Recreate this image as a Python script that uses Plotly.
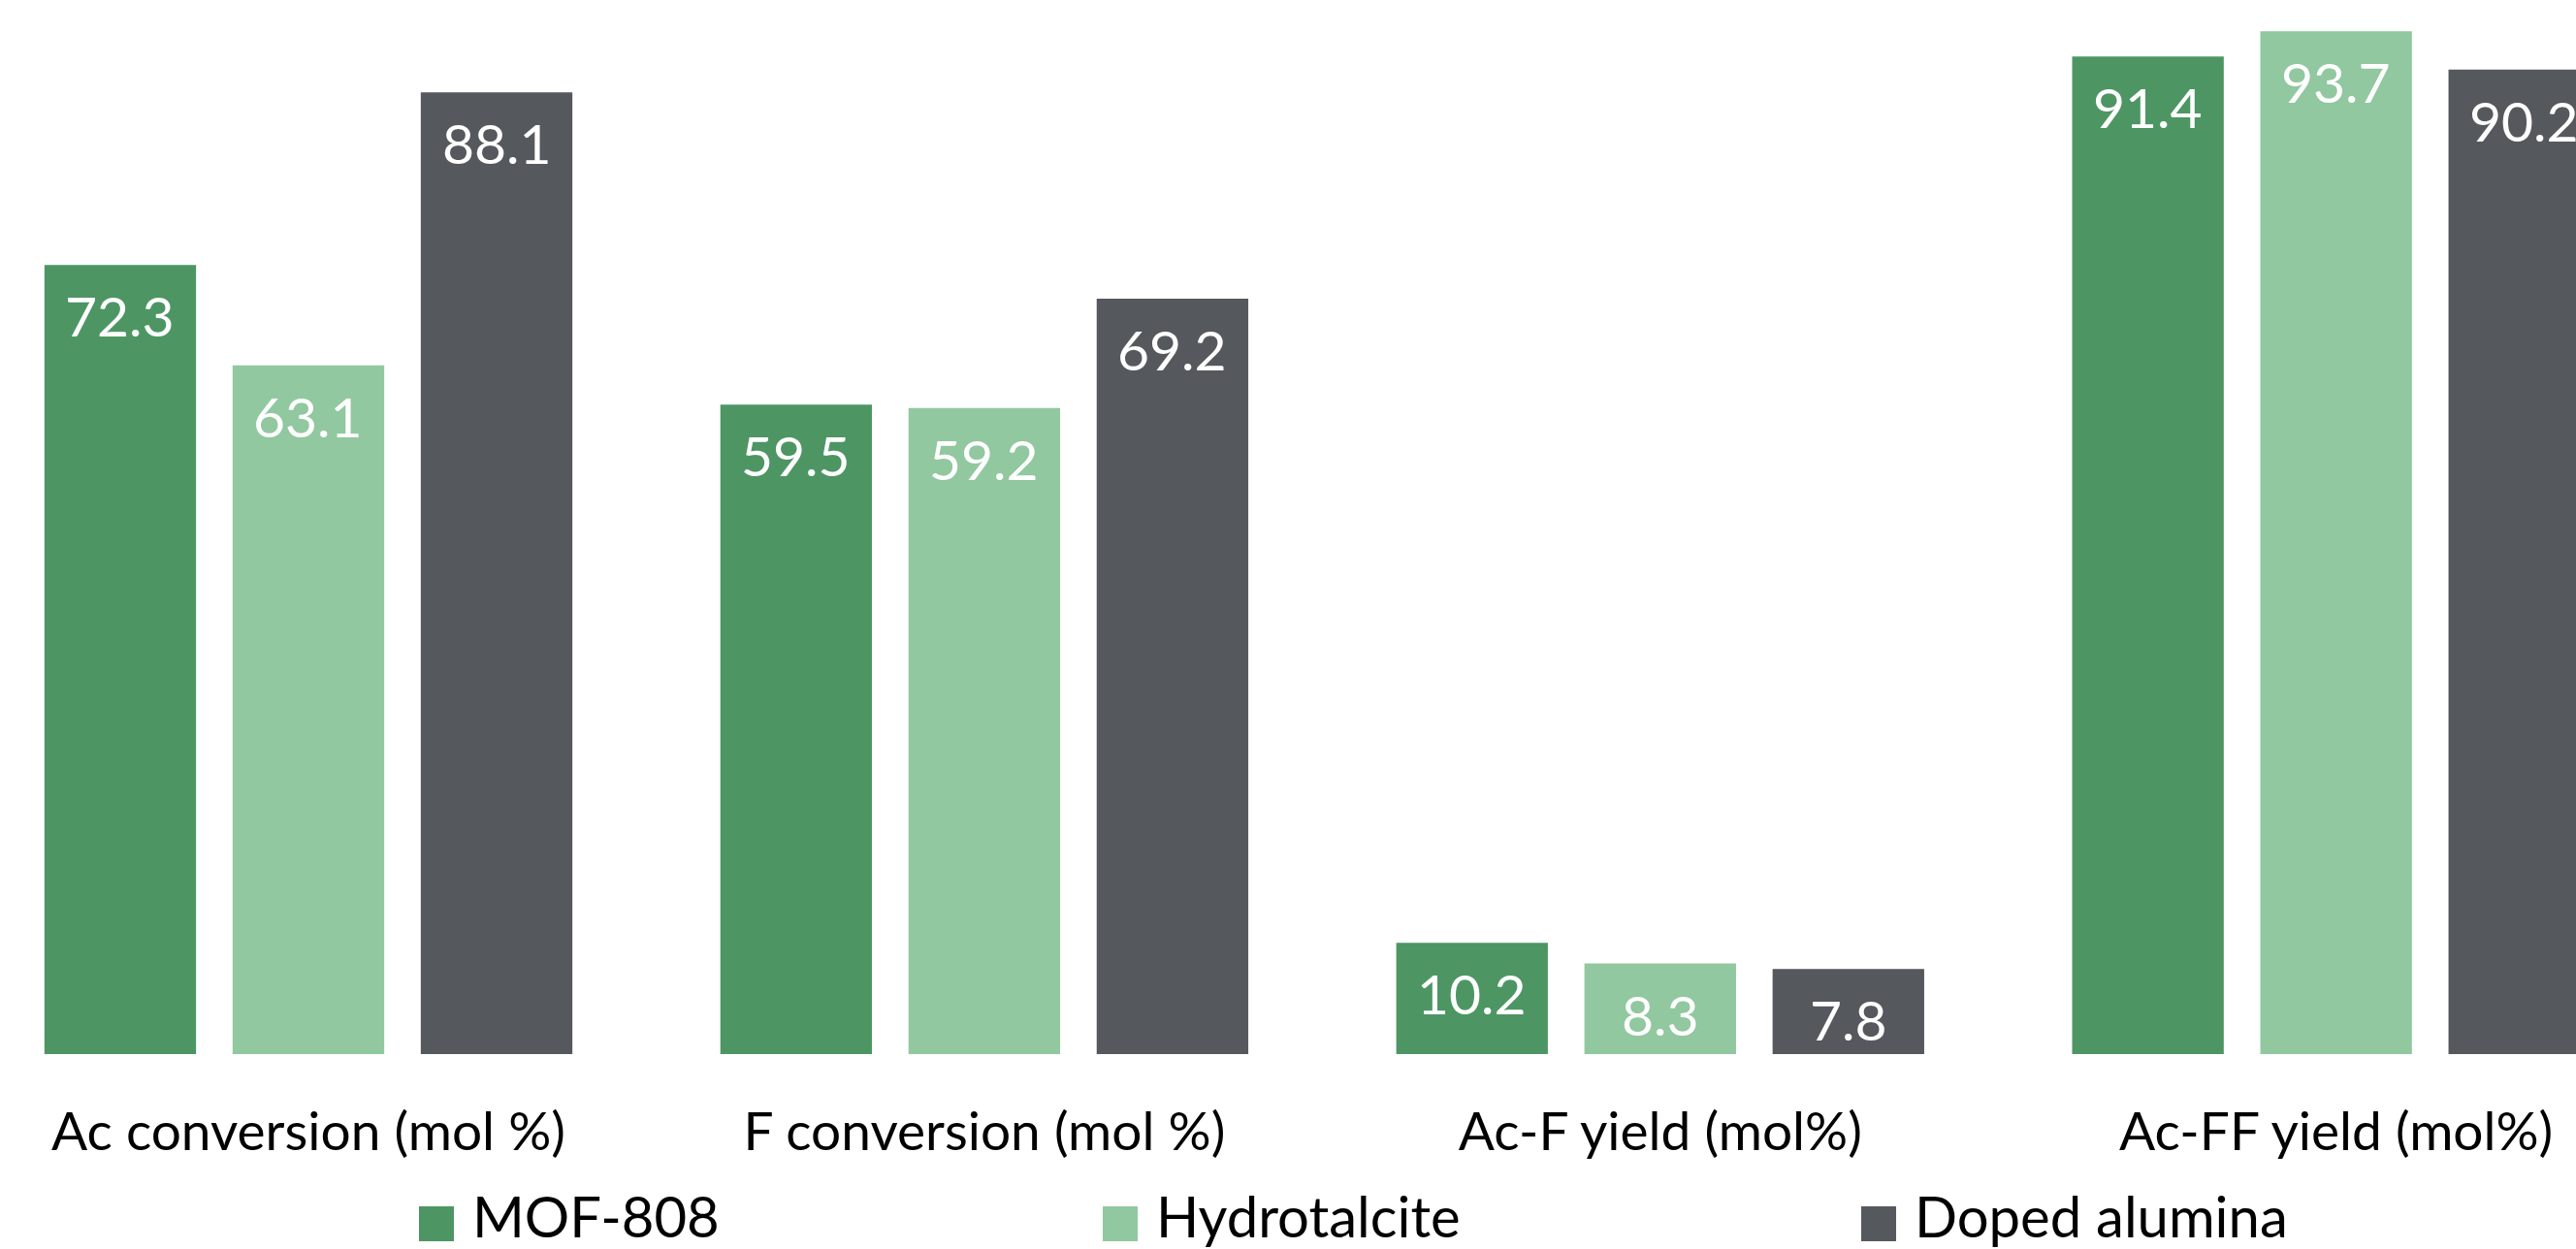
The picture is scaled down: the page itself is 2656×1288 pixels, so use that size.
import plotly.graph_objects as go

# Catalyst performance data (mol %)
CATEGORIES = [
    "Ac conversion (mol %)",
    "F conversion (mol %)",
    "Ac-F yield (mol%)",
    "Ac-FF yield (mol%)",
]
SERIES = ["MOF-808", "Hydrotalcite", "Doped alumina"]
MOF_808 = [72.3, 59.5, 10.2, 91.4]
HYDROTALCITE = [63.1, 59.2, 8.3, 93.7]
DOPED_ALUMINA = [88.1, 69.2, 7.8, 90.2]
VALUES = [MOF_808, HYDROTALCITE, DOPED_ALUMINA]
COLORS = ["#4d9664", "#91c89f", "#55595e"]

# Canvas / layout geometry (pixels)
W, H = 2656, 1288
MARGIN_B = 201
PLOT_H = H - MARGIN_B
PX_PER_UNIT = 11.256
BARGAP = 0.1648
BARGROUPGAP = 0.1943
X_RANGE = [-0.4563, 3.3549]
FONT = "Lato"

# Legend placement (pixels from the left / top of the page)
LEGEND_X = [432, 1137, 1919]
SWATCH = 36
SWATCH_TOP = 1244
LEGEND_TEXT_GAP = 18
LEGEND_TEXT_MID = 1253

fig = go.Figure()
for name, vals, color in zip(SERIES, VALUES, COLORS):
    fig.add_trace(go.Bar(
        name=name,
        x=CATEGORIES,
        y=vals,
        marker=dict(color=color, line=dict(width=0)),
        showlegend=False,
    ))

# Value labels, just inside the top of each bar
slot = (1 - BARGAP) / len(SERIES)
for k, vals in enumerate(VALUES):
    offset = (k - (len(SERIES) - 1) / 2) * slot
    for i, v in enumerate(vals):
        fig.add_annotation(
            x=i + offset, y=v, xref="x", yref="y",
            text=f"{v:.1f}", showarrow=False,
            xanchor="center", yanchor="top", yshift=-16,
            font=dict(family=FONT, size=57, color="white"),
        )

# Bottom legend: square swatch followed by the series name
for name, color, x0 in zip(SERIES, COLORS, LEGEND_X):
    fig.add_shape(
        type="rect", xref="paper", yref="paper",
        x0=x0 / W, x1=(x0 + SWATCH) / W,
        y0=(PLOT_H - (SWATCH_TOP + SWATCH)) / PLOT_H,
        y1=(PLOT_H - SWATCH_TOP) / PLOT_H,
        fillcolor=color, line=dict(width=0),
    )
    fig.add_annotation(
        x=(x0 + SWATCH + LEGEND_TEXT_GAP) / W,
        y=(PLOT_H - LEGEND_TEXT_MID) / PLOT_H,
        xref="paper", yref="paper",
        text=name, showarrow=False, borderpad=0,
        xanchor="left", yanchor="middle",
        font=dict(family=FONT, size=58, color="black"),
    )

fig.update_layout(
    width=W, height=H,
    margin=dict(l=0, r=0, t=0, b=MARGIN_B, pad=0),
    paper_bgcolor="white", plot_bgcolor="white",
    barmode="group", bargap=BARGAP, bargroupgap=BARGROUPGAP,
    showlegend=False,
    xaxis=dict(
        range=X_RANGE, showgrid=False, zeroline=False, showline=False,
        ticks="", ticklabelstandoff=43,
        tickfont=dict(family=FONT, size=55, color="black"),
    ),
    yaxis=dict(range=[0, PLOT_H / PX_PER_UNIT], visible=False),
)

fig.write_html("out.html")
